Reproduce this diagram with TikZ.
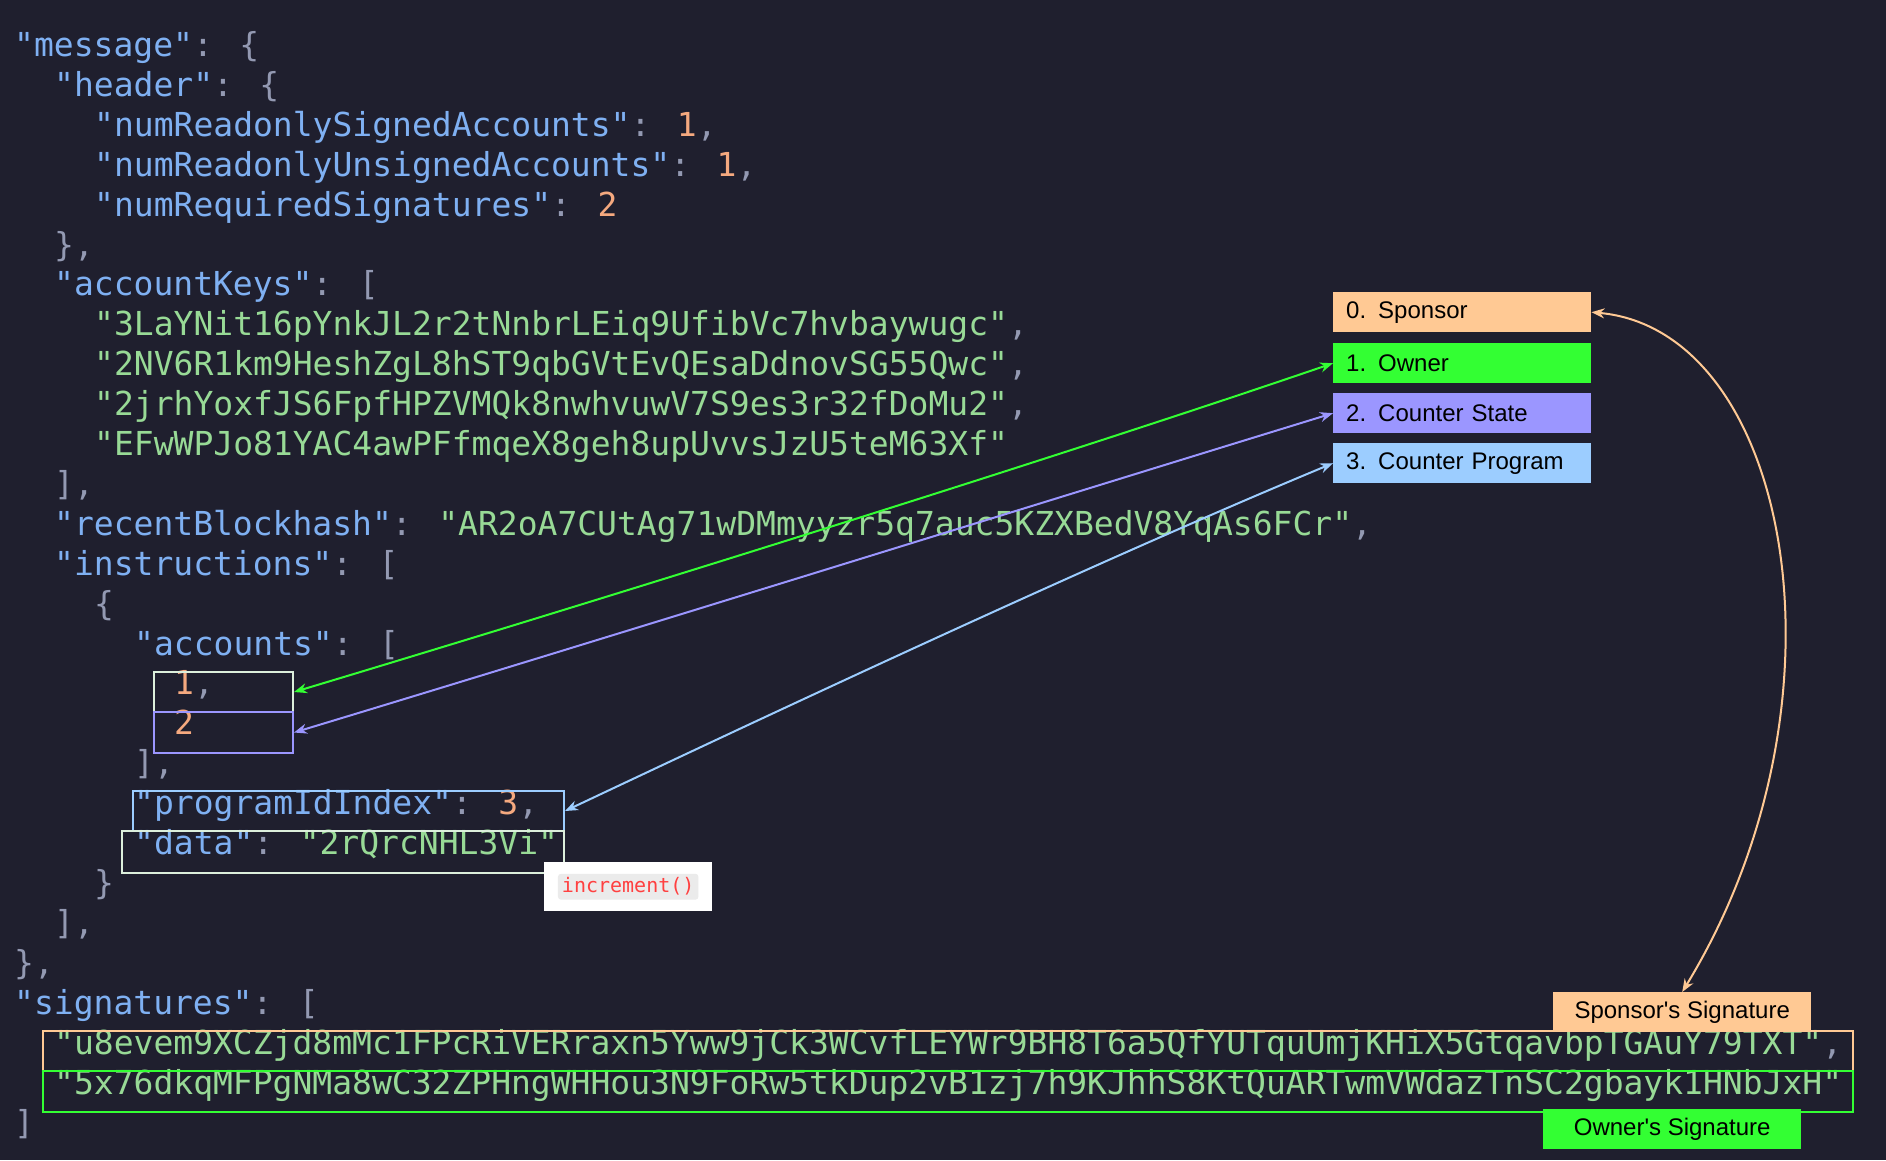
\documentclass[tikz,border=0pt]{standalone}
\usepackage{fontspec}
\usetikzlibrary{arrows.meta,positioning}
\newfontfamily\codefont{DejaVu Sans Mono}
\newfontfamily\labfont{Liberation Sans}
\definecolor{bg}{HTML}{1F1F2E}
\definecolor{keyc}{HTML}{7FB0F2}
\definecolor{strc}{HTML}{98DA96}
\definecolor{numc}{HTML}{F5A97F}
\definecolor{punc}{HTML}{9399B2}
\definecolor{sponsorc}{HTML}{FFC994}
\definecolor{ownerc}{HTML}{33FF33}
\definecolor{statec}{HTML}{9B96FF}
\definecolor{progc}{HTML}{9CCDFF}
\definecolor{plainc}{HTML}{DCEFDC}
\newcommand\K[1]{\textcolor{keyc}{"#1"}}
\newcommand\Q[1]{\textcolor{strc}{"#1"}}
\newcommand\N[1]{\textcolor{numc}{#1}}
\newcommand\PP[1]{\textcolor{punc}{#1}}
\tikzset{
  code/.style={anchor=west,inner sep=0,text height=24,text depth=8,font=\codefont\fontsize{33}{40}\selectfont},
  hbox/.style={draw=#1,line width=2,inner sep=0,anchor=north west},
  lab/.style={fill=#1,inner sep=0,anchor=north west,minimum width=258,minimum height=40,font=\labfont\fontsize{24}{28}\selectfont,text=black},
  link/.style={draw=#1,line width=2,{Stealth[length=13pt,width=10pt]}-{Stealth[length=13pt,width=10pt]}}
}
\begin{document}
\begin{tikzpicture}[x=1pt,y=-1pt]
\fill[bg] (0,0) rectangle (1886,1160);
\useasboundingbox (0,0) rectangle (1886,1160);
% code lines
\node[code] (l0) at (14,48) {\K{message}\PP{: \{}};
\node[code] (l1) at (54,88) {\K{header}\PP{: \{}};
\node[code] (l2) at (94,128) {\K{numReadonlySignedAccounts}\PP{: }\N{1}\PP{,}};
\node[code] (l3) at (94,168) {\K{numReadonlyUnsignedAccounts}\PP{: }\N{1}\PP{,}};
\node[code] (l4) at (94,208) {\K{numRequiredSignatures}\PP{: }\N{2}};
\node[code] (l5) at (54,248) {\PP{\},}};
\node[code] (l6) at (54,287) {\K{accountKeys}\PP{: [}};
\node[code] (l7) at (94,327) {\Q{3LaYNit16pYnkJL2r2tNnbrLEiq9UfibVc7hvbaywugc}\PP{,}};
\node[code] (l8) at (94,367) {\Q{2NV6R1km9HeshZgL8hST9qbGVtEvQEsaDdnovSG55Qwc}\PP{,}};
\node[code] (l9) at (94,407) {\Q{2jrhYoxfJS6FpfHPZVMQk8nwhvuwV7S9es3r32fDoMu2}\PP{,}};
\node[code] (l10) at (94,447) {\Q{EFwWPJo81YAC4awPFfmqeX8geh8upUvvsJzU5teM63Xf}};
\node[code] (l11) at (54,487) {\PP{],}};
\node[code] (l12) at (54,527) {\K{recentBlockhash}\PP{: }\Q{AR2oA7CUtAg71wDMmyyzr5q7auc5KZXBedV8YqAs6FCr}\PP{,}};
\node[code] (l13) at (54,567) {\K{instructions}\PP{: [}};
\node[code] (l14) at (94,607) {\PP{\{}};
\node[code] (l15) at (134,647) {\K{accounts}\PP{: [}};
\node[code] (l16) at (174,686) {\N{1}\PP{,}};
\node[code] (l17) at (174,726) {\N{2}};
\node[code] (l18) at (134,766) {\PP{],}};
\node[code] (l19) at (134,806) {\K{programIdIndex}\PP{: }\N{3}\PP{,}};
\node[code] (l20) at (134,846) {\K{data}\PP{: }\Q{2rQrcNHL3Vi}};
\node[code] (l21) at (94,886) {\PP{\}}};
\node[code] (l22) at (54,926) {\PP{],}};
\node[code] (l23) at (14,966) {\PP{\},}};
\node[code] (l24) at (14,1006) {\K{signatures}\PP{: [}};
\node[code] (l25) at (54,1046) {\Q{u8evem9XCZjd8mMc1FPcRiVERraxn5Yww9jCk3WCvfLEYWr9BH8T6a5QfYUTquUmjKHiX5GtqavbpTGAuY79TXT}\PP{,}};
\node[code] (l26) at (54,1086) {\Q{5x76dkqMFPgNMa8wC32ZPHngWHHou3N9FoRw5tkDup2vB1zj7h9KJhhS8KtQuARTwmVWdazTnSC2gbayk1HNbJxH}};
\node[code] (l27) at (14,1126) {\PP{]}};
% highlight boxes
\node[hbox=plainc,minimum width=139,minimum height=40] (acc1) at (153,671) {};
\node[hbox=statec,minimum width=139,minimum height=41] (acc2) at (153,711) {};
\node[hbox=progc,minimum width=431,minimum height=40] (prog) at (132,790) {};
\node[hbox=plainc,minimum width=442,minimum height=42] (data) at (121,830) {};
\node[hbox=sponsorc,minimum width=1810,minimum height=40] (sig1) at (42,1030) {};
\node[hbox=ownerc,minimum width=1810,minimum height=41] (sig2) at (42,1070) {};
\node[fill=white,inner sep=0,anchor=north west,minimum width=168,minimum height=49] (inc) at (544,862) {};
\node[fill=black!8,rounded corners=3,inner sep=4,font=\codefont\fontsize{20}{24}\selectfont,text={red!75!white}] (inctxt) at (inc.center) {increment()};
% legend
\node[lab=sponsorc,text width=232] (sponsor) at (1333,292) {0. Sponsor};
\node[lab=ownerc,text width=232] (owner) at (1333,343) {1. Owner};
\node[lab=statec,text width=232] (state) at (1333,393) {2. Counter State};
\node[lab=progc,text width=232] (program) at (1333,443) {3. Counter Program};
\node[lab=sponsorc,minimum width=258] (sponsig) at (1553,992) {Sponsor's Signature};
\node[lab=ownerc,minimum width=258] (ownsig) at (1543,1109) {Owner's Signature};
% links
\draw[link=ownerc] (acc1.east) .. controls (600,600) and (1050,460) .. (owner.west);
\draw[link=statec] (acc2.east) .. controls (600,640) and (1050,500) .. (state.west);
\draw[link=progc] (prog.east) .. controls (800,700) and (1100,560) .. (program.west);
\draw[link=sponsorc] (sponsor.east) .. controls (1790,330) and (1860,700) .. (sponsig.north);
\end{tikzpicture}
\end{document}
